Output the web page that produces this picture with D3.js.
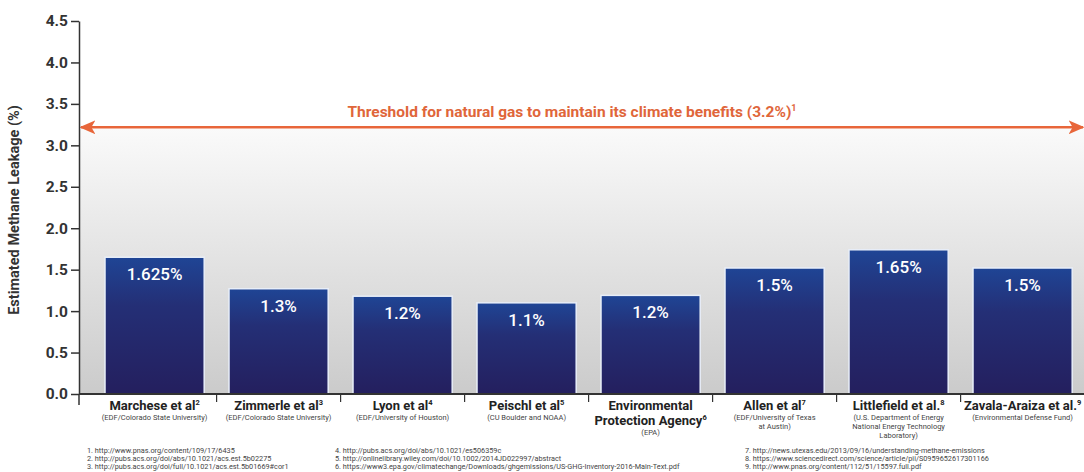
<!DOCTYPE html>
<html>
<head>
<meta charset="utf-8">
<script src="https://cdn.jsdelivr.net/npm/d3@7"></script>
<style>
  body { margin: 0; background: #fff; }
  svg { display: block; font-family: Roboto, "Noto Sans", sans-serif; }
</style>
</head>
<body>
<div id="chart"></div>
<script>
var categories = ["Marchese et al", "Zimmerle et al", "Lyon et al", "Peischl et al",
    "Environmental|Protection Agency", "Allen et al", "Littlefield et al.", "Zavala-Araiza et al."];
var sups = ["2", "3", "4", "5", "6", "7", "8", "9"];
var sources = [
    ["(EDF/Colorado State University)"],
    ["(EDF/Colorado State University)"],
    ["(EDF/University of Houston)"],
    ["(CU Boulder and NOAA)"],
    ["(EPA)"],
    ["(EDF/University of Texas", "at Austin)"],
    ["(U.S. Department of Energy", "National Energy Technology", "Laboratory)"],
    ["(Environmental Defense Fund)"]
];
// bar heights as drawn in the picture, and their printed labels
var values = [1.65, 1.27, 1.18, 1.1, 1.19, 1.52, 1.74, 1.52];
var labels = ["1.625%", "1.3%", "1.2%", "1.1%", "1.2%", "1.5%", "1.65%", "1.5%"];
var threshold = 3.2;
var thresholdText = "Threshold for natural gas to maintain its climate benefits (3.2%)";
var yTicks = [0, 0.5, 1.0, 1.5, 2.0, 2.5, 3.0, 3.5, 4.0, 4.5];
var footnotes = [
    "1.  http://www.pnas.org/content/109/17/6435",
    "2.  http://pubs.acs.org/doi/abs/10.1021/acs.est.5b02275",
    "3.  http://pubs.acs.org/doi/full/10.1021/acs.est.5b01669#cor1",
    "4.  http://pubs.acs.org/doi/abs/10.1021/es506359c",
    "5.  http://onlinelibrary.wiley.com/doi/10.1002/2014JD022997/abstract",
    "6.  https://www3.epa.gov/climatechange/Downloads/ghgemissions/US-GHG-Inventory-2016-Main-Text.pdf",
    "7.  http://news.utexas.edu/2013/09/16/understanding-methane-emissions",
    "8.  https://www.sciencedirect.com/science/article/pii/S0959652617301166",
    "9.  http://www.pnas.org/content/112/51/15597.full.pdf"
];

var W = 1084, H = 472;
var axisX = 79, x0 = 92.6, x1 = 1084.6;
var svg = d3.select("#chart").append("svg").attr("width", W).attr("height", H);

var y = d3.scaleLinear().domain([0, 4.5]).range([394, 21]);
var x = d3.scaleBand().domain(d3.range(categories.length))
    .range([x0, x1]).paddingInner(0.2).paddingOuter(0.1);

var defs = svg.append("defs");
var bg = defs.append("linearGradient").attr("id", "bggrad")
    .attr("x1", "0%").attr("x2", "0%").attr("y1", "0%").attr("y2", "100%");
bg.append("stop").attr("offset", "0%").style("stop-color", "#fafafa");
bg.append("stop").attr("offset", "100%").style("stop-color", "#cbcbcb");

var bargrad = defs.append("linearGradient").attr("id", "bargrad")
    .attr("x1", "0%").attr("x2", "0%").attr("y1", "0%").attr("y2", "100%");
bargrad.append("stop").attr("offset", "0%").style("stop-color", "#1f4595");
bargrad.append("stop").attr("offset", "35%").style("stop-color", "#242f76");
bargrad.append("stop").attr("offset", "100%").style("stop-color", "#241f5e");

defs.append("marker").attr("id", "arr").attr("viewBox", "0 0 10 10")
    .attr("refX", 9).attr("refY", 5).attr("markerWidth", 16).attr("markerHeight", 14)
    .attr("markerUnits", "userSpaceOnUse").attr("orient", "auto-start-reverse")
    .attr("preserveAspectRatio", "none")
    .append("path").attr("d", "M0,0 L10,5 L0,10 L2.5,5 Z").attr("fill", "#e8663a");

// gray band below threshold
svg.append("rect")
    .attr("x", axisX).attr("y", y(threshold))
    .attr("width", W - axisX).attr("height", y(0) - y(threshold))
    .attr("fill", "url(#bggrad)");

// bars
var bars = svg.selectAll(".bar").data(values).enter().append("g").attr("class", "bar");
bars.append("rect")
    .attr("x", function(d, i) { return x(i); })
    .attr("y", function(d) { return y(d); })
    .attr("width", x.bandwidth())
    .attr("height", function(d) { return y(0) - y(d); })
    .attr("fill", "url(#bargrad)")
    .attr("stroke", "#e8eef8").attr("stroke-width", 1.5);
bars.append("text")
    .attr("x", function(d, i) { return x(i) + x.bandwidth() / 2; })
    .attr("y", function(d) { return y(d) + 23; })
    .attr("text-anchor", "middle")
    .attr("fill", "#fff").attr("font-size", 17).attr("font-weight", 500)
    .text(function(d, i) { return labels[i]; });

// threshold arrow
svg.append("line")
    .attr("x1", 81).attr("x2", 1083)
    .attr("y1", y(threshold) - 1.5).attr("y2", y(threshold) - 1.5)
    .attr("stroke", "#e8663a").attr("stroke-width", 2.5)
    .attr("marker-start", "url(#arr)").attr("marker-end", "url(#arr)");
var tt = svg.append("text")
    .attr("x", 572).attr("y", y(threshold) - 12)
    .attr("text-anchor", "middle")
    .attr("fill", "#e0663a").attr("font-size", 15.5).attr("font-weight", 700)
    .text(thresholdText);
tt.append("tspan").attr("font-size", 9).attr("dy", -6).text("1");

// y axis
var yAxis = d3.axisLeft(y).tickValues(yTicks).tickFormat(d3.format(".1f")).tickSize(8).tickSizeOuter(0);
var gy = svg.append("g").attr("transform", "translate(" + axisX + ",0)").call(yAxis);
gy.select(".domain").attr("stroke", "#333").attr("stroke-width", 1.5);
gy.selectAll(".tick line").attr("stroke", "#333").attr("stroke-width", 1.5);
gy.selectAll(".tick text").attr("font-family", "Roboto, sans-serif")
    .attr("font-size", 15.5).attr("font-weight", 700).attr("fill", "#333").attr("x", -11);
svg.append("line").attr("x1", axisX).attr("x2", axisX).attr("y1", y(0)).attr("y2", 405)
    .attr("stroke", "#333").attr("stroke-width", 1.5);

svg.append("text")
    .attr("transform", "translate(19," + 210 + ") rotate(-90)")
    .attr("text-anchor", "middle")
    .attr("font-size", 14.5).attr("font-weight", 700).attr("fill", "#333")
    .text("Estimated Methane Leakage (%)");

// x axis line and separators
svg.append("line").attr("x1", axisX).attr("x2", W).attr("y1", y(0)).attr("y2", y(0))
    .attr("stroke", "#333").attr("stroke-width", 2);
svg.selectAll(".sep").data(d3.range(1, categories.length)).enter().append("line")
    .attr("x1", function(i) { return x(i) - x.step() * x.paddingInner() / 2; })
    .attr("x2", function(i) { return x(i) - x.step() * x.paddingInner() / 2; })
    .attr("y1", y(0)).attr("y2", 402)
    .attr("stroke", "#333").attr("stroke-width", 1.2);

// category labels
var cl = svg.selectAll(".cat").data(categories).enter().append("g").attr("class", "cat")
    .attr("transform", function(d, i) { return "translate(" + (x(i) + x.bandwidth() / 2) + ",0)"; });
cl.each(function(d, i) {
    var g = d3.select(this);
    var parts = d.split("|");
    var yy = 410;
    parts.forEach(function(p, j) {
        var t = g.append("text").attr("y", yy).attr("text-anchor", "middle")
            .attr("font-size", 13).attr("font-weight", 700).attr("fill", "#222").text(p);
        if (j === parts.length - 1) {
            t.append("tspan").attr("font-size", 7.5).attr("dy", -5).text(sups[i]);
        }
        yy += 15;
    });
    yy -= 5;
    sources[i].forEach(function(s) {
        g.append("text").attr("y", yy).attr("text-anchor", "middle")
            .attr("font-size", 7.5).attr("fill", "#444").text(s);
        yy += 9;
    });
});

// footnotes
var colX = [87, 335, 745];
svg.selectAll(".fn").data(footnotes).enter().append("text")
    .attr("x", function(d, i) { return colX[Math.floor(i / 3)]; })
    .attr("y", function(d, i) { return 453 + (i % 3) * 8; })
    .attr("font-size", 7.3).attr("fill", "#444")
    .attr("textLength", null)
    .text(function(d) { return d; });
</script>
</body>
</html>
